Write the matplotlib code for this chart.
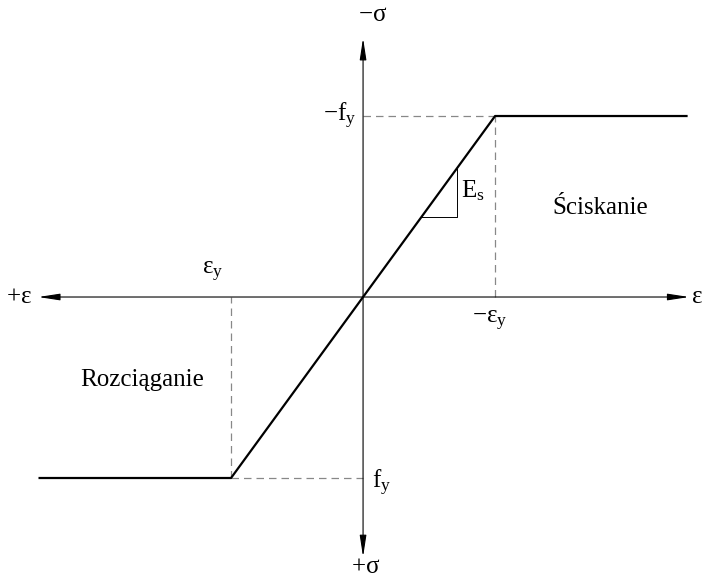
import numpy as np
import matplotlib.pyplot as plt

plt.rcParams['font.family'] = ['Liberation Serif', 'DejaVu Serif']
plt.rcParams['mathtext.fontset'] = 'custom'
plt.rcParams['mathtext.rm'] = 'Liberation Serif'
plt.rcParams['mathtext.it'] = 'Liberation Serif:italic'

# wykres sprężysto-plastyczny stali (eps/eps_y, -sigma/f_y)
strain = [-2.45, -1.0, 1.0, 2.45]
stress = [-1.0, -1.0, 1.0, 1.0]
eps_y = 1.0
f_y = 1.0

fig = plt.figure(figsize=(7.05, 5.79), dpi=100)
ax = fig.add_axes([0, 0, 1, 1])
ax.set_xlim(-2.75, 2.59)
ax.set_ylim(-1.558, 1.641)
ax.axis('off')

# osie ze strzałkami
arr = dict(arrowstyle='<|-|>,head_length=1.3,head_width=0.2', color='black', lw=0.8,
           shrinkA=0, shrinkB=0)
ax.annotate('', xy=(2.47, 0), xytext=(-2.46, 0), arrowprops=arr)
ax.annotate('', xy=(0, 1.43), xytext=(0, -1.436), arrowprops=arr)

# linie pomocnicze
dash = dict(color='#888888', lw=0.9, ls=(0, (6, 4)))
ax.plot([0, eps_y], [f_y, f_y], **dash)
ax.plot([eps_y, eps_y], [0, f_y], **dash)
ax.plot([-eps_y, 0], [-f_y, -f_y], **dash)
ax.plot([-eps_y, -eps_y], [-f_y, 0], **dash)

# wykres
ax.plot(strain, stress, color='black', lw=1.6)

# trójkąt modułu E_s
x0, x1 = 0.44, 0.71
ax.plot([x0, x1, x1], [x0 * f_y / eps_y, x0 * f_y / eps_y, x1 * f_y / eps_y],
        color='black', lw=0.7)

fs = 18
ax.text(0.07, 1.56, r'$-\mathrm{σ}$', fontsize=fs, ha='center', va='center')
ax.text(0.02, -1.49, r'$+\mathrm{σ}$', fontsize=fs, ha='center', va='center')
ax.text(-2.61, 0, r'$+\mathrm{ε}$', fontsize=fs, ha='center', va='center')
ax.text(2.53, 0, r'$\mathrm{ε}$', fontsize=fs, ha='center', va='center')
ax.text(-1.14, 0.14, r'$\mathrm{ε_y}$', fontsize=fs, ha='center', va='center')
ax.text(0.96, -0.13, r'$-\mathrm{ε_y}$', fontsize=fs, ha='center', va='center')
ax.text(-0.05, 1.0, r'$-\mathrm{f_y}$', fontsize=fs, ha='right', va='center')
ax.text(0.07, -1.03, r'$\mathrm{f_y}$', fontsize=fs, ha='left', va='center')
ax.text(0.74, 0.59, r'$\mathrm{E_s}$', fontsize=fs, ha='left', va='center')
ax.text(1.80, 0.49, 'Ściskanie', fontsize=fs, ha='center', va='center')
ax.text(-1.67, -0.46, 'Rozciąganie', fontsize=fs, ha='center', va='center')

fig.savefig('out.png', dpi=100, facecolor='white')
